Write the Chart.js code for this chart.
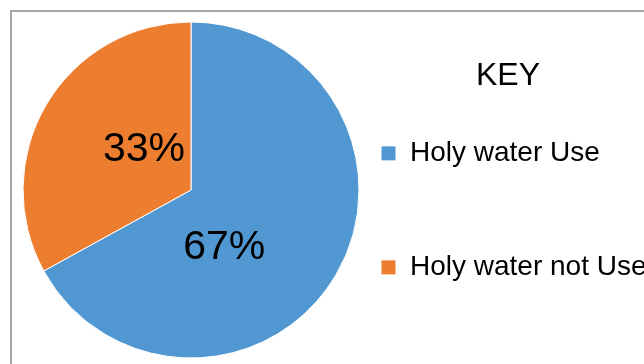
<!DOCTYPE html>
<html>
<head>
<meta charset="utf-8">
<script src="https://cdn.jsdelivr.net/npm/chart.js@4"></script>
<style>
  body { margin: 0; background: #fff; }
</style>
</head>
<body>
<canvas id="pieChart" width="644" height="364"></canvas>
<script>
var categories = ['Holy water Use', 'Holy water not Use'];
var shares = [67, 33];
var sliceColors = ['#5198d2', '#ed7d2f'];

var FONT = "'Liberation Sans', Arial, sans-serif";

// thin grey frame like the exported picture
var framePlugin = {
    id: 'frame',
    beforeDraw: function(chart) {
        var c = chart.ctx;
        c.save();
        c.strokeStyle = '#8a8a8a';
        c.lineWidth = 1.5;
        c.strokeRect(11, 11, 700, 400);
        c.restore();
    }
};

// percentage text inside each slice
var sliceLabels = {
    id: 'sliceLabels',
    afterDatasetsDraw: function(chart, args, opts) {
        var c = chart.ctx;
        var meta = chart.getDatasetMeta(0);
        var values = chart.data.datasets[0].data;
        var total = values.reduce(function(a, b) { return a + b; }, 0);
        c.save();
        c.font = opts.size + 'px ' + FONT;
        c.fillStyle = '#000';
        c.textAlign = 'center';
        c.textBaseline = 'middle';
        meta.data.forEach(function(arc, i) {
            var p = arc.getProps(['x', 'y', 'startAngle', 'endAngle', 'outerRadius'], true);
            var mid = (p.startAngle + p.endAngle) / 2 + opts.shift[i] * Math.PI / 180;
            var r = p.outerRadius * opts.frac;
            var txt = Math.round(values[i] / total * 100) + '%';
            c.fillText(txt, p.x + Math.cos(mid) * r, p.y + Math.sin(mid) * r + opts.dy);
        });
        c.restore();
    }
};

var ctx = document.getElementById('pieChart').getContext('2d');
var pieChart = new Chart(ctx, {
    type: 'pie',
    data: {
        labels: categories,
        datasets: [{
            data: shares,
            backgroundColor: sliceColors,
            borderColor: '#ffffff',
            borderWidth: 1,
            radius: 168
        }]
    },
    plugins: [framePlugin, sliceLabels],
    options: {
        responsive: false,
        animation: false,
        layout: {
            padding: { top: 16, bottom: 0, left: 30, right: -20 }
        },
        plugins: {
            tooltip: { enabled: false },
            sliceLabels: { size: 41, frac: 0.38, shift: [28, 12], dy: 3 },
            legend: {
                display: true,
                position: 'right',
                align: 'start',
                maxWidth: 312,
                title: {
                    display: true,
                    text: 'KEY',
                    color: '#000',
                    font: { family: FONT, size: 32 },
                    padding: { top: 44, bottom: 12 }
                },
                labels: {
                    color: '#000',
                    boxWidth: 15,
                    boxHeight: 15,
                    padding: 29,
                    font: { family: FONT, size: 28 },
                    generateLabels: function(chart) {
                        var items = Chart.overrides.pie.plugins.legend.labels.generateLabels(chart);
                        // empty spacer row between the two keys
                        items.splice(1, 0, {
                            text: new Array(41).join(' '),
                            fillStyle: 'rgba(0,0,0,0)',
                            strokeStyle: 'rgba(0,0,0,0)',
                            lineWidth: 0,
                            hidden: false,
                            index: -1
                        });
                        return items;
                    }
                }
            }
        }
    }
});
</script>
</body>
</html>
